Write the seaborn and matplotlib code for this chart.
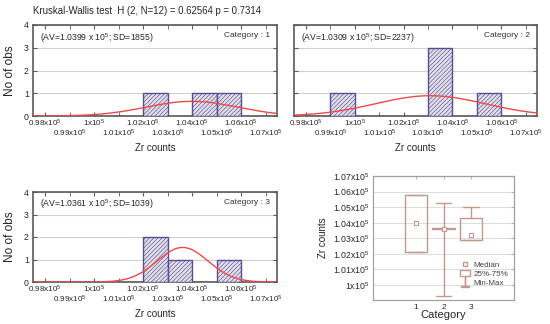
import numpy as np
import pandas as pd
import matplotlib
matplotlib.use("Agg")
import matplotlib.pyplot as plt
from matplotlib.lines import Line2D
from matplotlib.patches import Patch
import seaborn as sns

sns.set_style("white")
plt.rcParams['font.family'] = ['Liberation Sans', 'DejaVu Sans']
plt.rcParams['mathtext.default'] = 'regular'

# ---------------- data ----------------
title = "Kruskal-Wallis test  H (2, N=12) = 0.62564 p = 0.7314"
categories = ["1", "2", "3"]
bin_edges = [98000, 99000, 100000, 101000, 102000, 103000, 104000, 105000, 106000, 107000]
bin_centers = [98500, 99500, 100500, 101500, 102500, 103500, 104500, 105500, 106500]
counts_cat1 = [0, 0, 0, 0, 1, 0, 1, 1, 0]
counts_cat2 = [0, 1, 0, 0, 0, 3, 0, 1, 0]
counts_cat3 = [0, 0, 0, 0, 2, 1, 0, 1, 0]
av_values = [103990, 103090, 103610]
sd_values = [1855, 2237, 1039]
av_labels = ["1.0399", "1.0309", "1.0361"]
n_obs = [3, 5, 4]

xticks_major = [98000, 100000, 102000, 104000, 106000]
xticklabels_major = ["0.98x10$^5$", "1x10$^5$", "1.02x10$^5$", "1.04x10$^5$", "1.06x10$^5$"]
xticks_minor = [99000, 101000, 103000, 105000, 107000]
xticklabels_minor = ["0.99x10$^5$", "1.01x10$^5$", "1.03x10$^5$", "1.05x10$^5$", "1.07x10$^5$"]

box_median = [103980, 103600, 103210]
box_q1 = [102120, 103570, 102890]
box_q3 = [105780, 103630, 104300]
box_min = [102120, 99300, 102890]
box_max = [105780, 105270, 105010]
box_yticks = [100000, 101000, 102000, 103000, 104000, 105000, 106000, 107000]
box_yticklabels = ["1x10$^5$", "1.01x10$^5$", "1.02x10$^5$", "1.03x10$^5$",
                   "1.04x10$^5$", "1.05x10$^5$", "1.06x10$^5$", "1.07x10$^5$"]

# ---------------- figure ----------------
W, H = 550, 324
fig = plt.figure(figsize=(W / 100, H / 100), dpi=100)

def px_axes(left, top, right, bottom):
    return fig.add_axes([left / W, 1 - bottom / H, (right - left) / W, (bottom - top) / H])

bar_edge = "#5a4a98"
curve_col = "#f04848"
frame_col = "#5a5a5a"

hist_axes = [px_axes(33, 25, 277, 116), px_axes(294, 25, 537, 116), px_axes(33, 192, 277, 282)]
all_counts = [counts_cat1, counts_cat2, counts_cat3]

plt.rcParams['hatch.color'] = "#77729a"
plt.rcParams['hatch.linewidth'] = 0.45

for i, ax in enumerate(hist_axes):
    df = pd.DataFrame({"x": bin_centers, "w": all_counts[i]})
    sns.histplot(data=df, x="x", weights="w", bins=bin_edges, ax=ax,
                 color="#dcdce4", edgecolor=bar_edge, linewidth=1.0, alpha=1, zorder=3)
    for p in ax.patches:
        p.set_hatch("////////")
        p.set_facecolor("#e2e2e8")
        p.set_edgecolor(bar_edge)
    xs = np.linspace(97500, 107500, 300)
    ys = n_obs[i] * 1000 / (sd_values[i] * np.sqrt(2 * np.pi)) * np.exp(-0.5 * ((xs - av_values[i]) / sd_values[i]) ** 2)
    sns.lineplot(x=xs, y=ys, ax=ax, color=curve_col, linewidth=1.0, zorder=4)
    ax.set_xlim(97510, 107460)
    ax.set_ylim(0, 4)
    ax.set_yticks([0, 1, 2, 3, 4])
    if i == 1:
        ax.set_yticklabels([])
    else:
        ax.set_yticklabels(["0", "1", "2", "3", "4"], fontsize=6.3)
    ax.set_xticks(xticks_major)
    ax.set_xticklabels(xticklabels_major, fontsize=5.8)
    ax.set_xticks(xticks_minor, minor=True)
    ax.set_xticklabels(xticklabels_minor, minor=True, fontsize=5.8)
    ax.tick_params(axis="x", which="major", direction="in", length=3, pad=1.5, top=True, bottom=True, color=frame_col)
    ax.tick_params(axis="x", which="minor", direction="in", length=3, pad=8.5, top=True, bottom=True, color=frame_col)
    ax.tick_params(axis="y", direction="in", length=3, pad=3, left=True, right=True, color=frame_col)
    ax.yaxis.grid(True, color="#d0d0d0", linewidth=0.8, zorder=0)
    ax.set_axisbelow(True)
    for s in ax.spines.values():
        s.set_color(frame_col)
        s.set_linewidth(1.2)
    ax.set_ylabel("No of obs" if i != 1 else "", fontsize=8.5)
    ax.set_xlabel("Zr counts", fontsize=7, labelpad=3)
    ax.text(0.03, 0.86, f"(AV={av_labels[i]} x 10$^5$; SD={sd_values[i]})", transform=ax.transAxes,
            fontsize=6.2, va="center", ha="left")
    ax.text(0.97, 0.88, f"Category : {categories[i]}", transform=ax.transAxes,
            fontsize=6, va="center", ha="right", color="#333333")

hist_axes[0].yaxis.set_label_coords(-0.068, 0.5)
hist_axes[2].yaxis.set_label_coords(-0.068, 0.5)

fig.text(33 / W, 1 - 11 / H, title, fontsize=6.9, ha="left", va="center")

# ---------------- box plot ----------------
box_col = "#c09a90"
bax = px_axes(373, 176, 514, 300)
stats = []
for k in range(3):
    stats.append(dict(med=box_median[k], q1=box_q1[k], q3=box_q3[k],
                      whislo=box_min[k], whishi=box_max[k], label=categories[k]))
positions = [1, 2, 3]
bax.bxp(stats, positions=positions, widths=0.82, showfliers=False,
        boxprops=dict(color=box_col, linewidth=1.0),
        whiskerprops=dict(color=box_col, linewidth=1.0),
        capprops=dict(color=box_col, linewidth=1.0),
        medianprops=dict(linewidth=0),
        capwidths=0.58)
sns.scatterplot(x=positions, y=box_median, ax=bax, marker="s", s=8, facecolor="white",
                edgecolor=box_col, linewidth=0.8, zorder=5)
bax.set_xlim(-0.56, 4.56)
bax.set_ylim(99040, 107000)
bax.set_yticks(box_yticks)
bax.set_yticklabels(box_yticklabels, fontsize=6.3)
bax.set_xticks(positions)
bax.set_xticklabels(categories, fontsize=6)
bax.tick_params(direction="in", length=2, top=True, right=True, color="#b0b0b0", pad=3)
bax.yaxis.grid(True, color="#dddddd", linewidth=0.8)
bax.set_axisbelow(True)
for s in bax.spines.values():
    s.set_color("#a0a0a0")
    s.set_linewidth(0.9)
bax.set_xlabel("Category", fontsize=8, labelpad=-0.5)
bax.set_ylabel("Zr counts", fontsize=7, labelpad=3)

handles = [
    Line2D([], [], marker="s", markersize=3, markerfacecolor="white", markeredgecolor=box_col, linestyle="none"),
    Patch(facecolor="white", edgecolor=box_col, linewidth=1.0),
    Line2D([], [], marker=r"$\perp$", markersize=7, color=box_col, linestyle="none"),
]
leg = bax.legend(handles, ["Median", "25%-75%", "Min-Max"], loc="lower right", frameon=False,
                 fontsize=5.8, handlelength=1.3, handletextpad=0.4, labelspacing=0.15,
                 borderaxespad=0.3, bbox_to_anchor=(1.0, 0.06))
for t in leg.get_texts():
    t.set_color("#444444")

fig.savefig("out.png", dpi=100)
